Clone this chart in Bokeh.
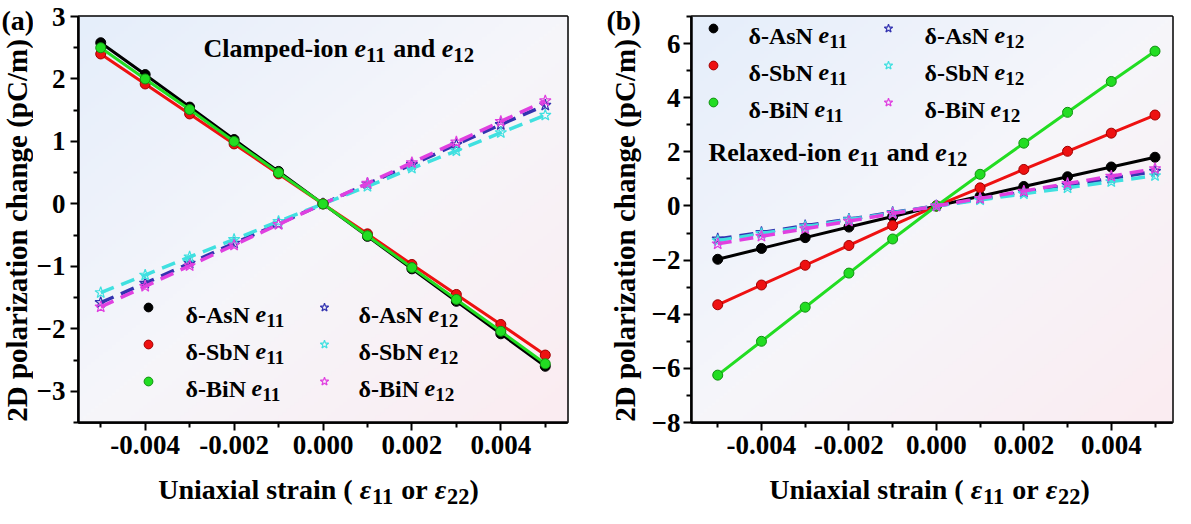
import math
import numpy as np
from bokeh.plotting import figure
from bokeh.models import Range1d, FixedTicker, NumeralTickFormatter, Label, Legend, LegendItem
from bokeh.layouts import row, column
from bokeh.embed import file_html
from bokeh.resources import INLINE

# ---------------- data ----------------
strain = [-0.005, -0.004, -0.003, -0.002, -0.001, 0.0, 0.001, 0.002, 0.003, 0.004, 0.005]

# (a) clamped-ion
a_asn_e11 = [2.58, 2.07, 1.55, 1.03, 0.52, 0.0, -0.52, -1.04, -1.56, -2.08, -2.60]
a_sbn_e11 = [2.40, 1.92, 1.44, 0.96, 0.48, 0.0, -0.48, -0.97, -1.45, -1.93, -2.42]
a_bin_e11 = [2.50, 2.00, 1.51, 1.00, 0.50, 0.0, -0.51, -1.02, -1.53, -2.04, -2.56]
a_asn_e12 = [-1.58, -1.27, -0.95, -0.63, -0.32, 0.0, 0.32, 0.63, 0.95, 1.27, 1.58]
a_sbn_e12 = [-1.42, -1.14, -0.85, -0.57, -0.28, 0.0, 0.28, 0.57, 0.85, 1.14, 1.42]
a_bin_e12 = [-1.65, -1.32, -0.99, -0.66, -0.33, 0.0, 0.33, 0.66, 0.99, 1.32, 1.65]

# (b) relaxed-ion
b_asn_e11 = [-1.97, -1.57, -1.17, -0.78, -0.39, 0.0, 0.36, 0.72, 1.08, 1.44, 1.80]
b_sbn_e11 = [-3.65, -2.92, -2.19, -1.46, -0.72, 0.0, 0.67, 1.35, 2.02, 2.69, 3.36]
b_bin_e11 = [-6.25, -5.00, -3.74, -2.48, -1.22, 0.0, 1.17, 2.32, 3.46, 4.60, 5.72]
b_asn_e12 = [-1.22, -0.98, -0.73, -0.49, -0.24, 0.0, 0.26, 0.51, 0.77, 1.02, 1.28]
b_sbn_e12 = [-1.28, -1.02, -0.77, -0.51, -0.26, 0.0, 0.22, 0.45, 0.67, 0.90, 1.12]
b_bin_e12 = [-1.40, -1.12, -0.84, -0.56, -0.28, 0.0, 0.28, 0.55, 0.83, 1.10, 1.38]

x_ticks = [-0.004, -0.002, 0.0, 0.002, 0.004]
x_minor = [-0.005, -0.003, -0.001, 0.001, 0.003, 0.005]
a_yticks = [-3, -2, -1, 0, 1, 2, 3]
a_yminor = [-3.5, -2.5, -1.5, -0.5, 0.5, 1.5, 2.5]
b_yticks = [-8, -6, -4, -2, 0, 2, 4, 6]
b_yminor = [-7, -5, -3, -1, 1, 3, 5, 7]

materials = ["δ-AsN", "δ-SbN", "δ-BiN"]
e11_colors = ["#000000", "#ee1111", "#22dd22"]
e11_edges = ["#000000", "#a00000", "#109010"]
e12_colors = ["#3333b0", "#40e0e0", "#e040e0"]

y_title = "2D polarization change (pC/m)"
x_title = [("Uniaxial strain ( ", "b"), ("ε", "bi"), ("11", "sub"), (" or ", "b"), ("ε", "bi"),
           ("22", "sub"), (")", "b")]

FONT = "Liberation Serif"
HM = 468          # main figure height
HB = 40           # bottom title strip height
TOP = 16          # frame top offset inside main canvas
FB = 430          # frame bottom, page px
PAGE_TOP = 8

# Times-like bold advance widths (per 1000 em) for text layout
WID = {' ': 250, '(': 333, ')': 333, '-': 333, '.': 250, '/': 278, 'A': 722, 'B': 667, 'C': 722,
       'D': 722, 'N': 722, 'R': 722, 'S': 556, 'U': 722, 'a': 500, 'b': 556, 'c': 444, 'd': 556,
       'e': 444, 'g': 500, 'h': 556, 'i': 278, 'l': 278, 'm': 833, 'n': 556, 'o': 500, 'p': 556,
       'r': 444, 's': 389, 't': 333, 'x': 500, 'z': 444, 'δ': 500, 'ε': 440}
for d in "0123456789":
    WID[d] = 500


def tw(s, size):
    return sum(WID.get(c, 500) for c in s) * size / 1000.0


def rich(p, FL, FBOT, x, base, parts, size, center=False):
    """Mixed-style text: page coords (x, baseline) mapped to frame-relative screen units."""
    pieces = []
    for txt, kind in parts:
        if kind == "sub":
            pieces.append((txt, size * 0.8, size * 0.24, "bold"))
        elif kind == "bi":
            pieces.append((txt, size, 0.0, "bold italic"))
        else:
            pieces.append((txt, size, 0.0, "bold"))
    total = sum(tw(t, s) for t, s, _, _ in pieces)
    if center:
        x = x - total / 2.0
    for t, s, dy, st in pieces:
        lead = len(t) - len(t.lstrip(" "))
        x += tw(" " * lead, s)
        core = t.strip(" ")
        if core:
            p.add_layout(Label(x=x - FL, y=FBOT - (base + dy), x_units="screen", y_units="screen",
                               text=core, text_font=FONT, text_font_size=f"{s:.1f}px",
                               text_font_style=st, text_color="black",
                               text_baseline="alphabetic", text_align="left"))
        x += tw(t.lstrip(" "), s)


def legend_col(p, FL, cx, cys, renderers):
    g = 22
    items = [LegendItem(label=" ", renderers=[r]) for r in renderers]
    leg = Legend(items=items, location=(cx - g / 2 - FL, FB - (cys[-1] + g / 2)),
                 orientation="vertical", glyph_width=g, glyph_height=g, label_height=g,
                 label_width=0, label_standoff=0, spacing=int(round(cys[1] - cys[0] - g)),
                 padding=0, margin=0, border_line_alpha=0, background_fill_alpha=0,
                 label_text_font_size="1px")
    p.add_layout(leg)


def gradient(nx=120, ny=120):
    yy, xx = np.mgrid[0:1:ny * 1j, 0:1:nx * 1j]
    t = (xx + (1 - yy)) / 2.0
    c_tl = np.array([229, 238, 250], dtype=float)
    c_md = np.array([246, 246, 250], dtype=float)
    c_br = np.array([251, 236, 241], dtype=float)
    s = (t / 0.5)[..., None]
    s2 = ((t - 0.5) / 0.5)[..., None]
    out = np.where((t < 0.5)[..., None], c_tl + (c_md - c_tl) * s, c_md + (c_br - c_md) * s2)
    img = np.empty((ny, nx), dtype=np.uint32)
    v = img.view(dtype=np.uint8).reshape((ny, nx, 4))
    v[..., 0] = out[..., 0].astype(np.uint8)
    v[..., 1] = out[..., 1].astype(np.uint8)
    v[..., 2] = out[..., 2].astype(np.uint8)
    v[..., 3] = 255
    return img


def strip(width, height):
    s = figure(width=width, height=height, x_range=Range1d(0, 1), y_range=Range1d(0, 1),
               output_backend="svg", toolbar_location=None, x_axis_location=None,
               y_axis_location=None, min_border=0)
    s.frame_align = False
    for g in s.grid:
        g.visible = False
    s.outline_line_color = None
    s.background_fill_color = "white"
    s.border_fill_color = "white"
    return s


def make_fig(width, bl, br, xr, yr, yticks, yminor, ystandoff):
    p = figure(width=width, height=HM, x_range=Range1d(*xr), y_range=Range1d(*yr),
               output_backend="svg", toolbar_location=None,
               min_border_left=bl, min_border_right=br, min_border_top=TOP,
               min_border_bottom=PAGE_TOP + HM - FB)
    p.image_rgba(image=[gradient()], x=xr[0], y=yr[0], dw=xr[1] - xr[0], dh=yr[1] - yr[0], level="image")
    p.grid.visible = False
    p.outline_line_color = "black"
    p.outline_line_width = 2.5
    p.outline_line_alpha = 1.0
    p.background_fill_color = "white"
    p.border_fill_color = "white"
    p.xaxis.ticker = FixedTicker(ticks=x_ticks, minor_ticks=x_minor)
    p.xaxis.formatter = NumeralTickFormatter(format="0.000")
    p.yaxis.ticker = FixedTicker(ticks=yticks, minor_ticks=yminor)
    for ax in (p.xaxis[0], p.yaxis[0]):
        ax.axis_line_width = 2.5
        ax.major_tick_line_width = 2
        ax.minor_tick_line_width = 2
        ax.major_tick_out = 8
        ax.major_tick_in = 0
        ax.minor_tick_out = 5
        ax.minor_tick_in = 0
        ax.major_label_text_font = FONT
        ax.major_label_text_font_size = "27px"
        ax.major_label_text_font_style = "bold"
        ax.major_label_text_color = "black"
    p.xaxis.major_label_standoff = 5
    p.yaxis.major_label_standoff = ystandoff
    return p


def draw(p, e11, e12, e12_first):
    circ, stars = [], []

    def d11():
        for ys, c, ec in zip(e11, e11_colors, e11_edges):
            p.line(strain, ys, line_color=c, line_width=3)
            circ.append(p.scatter(strain, ys, marker="circle", size=10, fill_color=c,
                                  line_color=ec, line_width=1))

    def d12():
        for ys, c in zip(e12, e12_colors):
            p.line(strain, ys, line_color=c, line_width=3.5, line_dash="14 8")
            stars.append(p.scatter(strain, ys, marker="star", size=12, fill_alpha=0,
                                   line_color=c, line_width=1.2))
    if e12_first:
        d12(); d11()
    else:
        d11(); d12()
    return circ, stars


def y_title_label(s, x, ycenter):
    s.add_layout(Label(x=x, y=ycenter, x_units="screen", y_units="screen", text=y_title,
                       angle=math.pi / 2, angle_units="rad", text_align="center",
                       text_baseline="middle", text_font=FONT, text_font_size="29px",
                       text_font_style="bold", text_color="black"))


# ---------------- widths (page x) ----------------
WYA, WPA, WYB, WPB = 33, 559, 56, 527   # sums to 1175
XA0 = 8
PA0 = XA0 + WYA          # 41
YB0 = PA0 + WPA          # 600
PB0 = YB0 + WYB          # 656
FLa = PA0 + 37           # 78
FLb = PB0 + 34           # 690
STRIP_BOTTOM = PAGE_TOP + HM   # page y of bottom of main row (476)

# ---------------- panel (a) ----------------
pa = make_fig(WPA, FLa - PA0, PA0 + WPA - 575, (-0.0055, 0.0055), (-3.5, 3.0), a_yticks, a_yminor, 5)
ca, sa = draw(pa, [a_asn_e11, a_sbn_e11, a_bin_e11], [a_asn_e12, a_sbn_e12, a_bin_e12], True)

rows_a = [315, 352, 389]
legend_col(pa, FLa, 148, rows_a, ca)
legend_col(pa, FLa, 324, rows_a, sa)
for m, cy in zip(materials, rows_a):
    rich(pa, FLa, FB, 185, cy + 7, [(m + " ", "b"), ("e", "bi"), ("11", "sub")], 24)
    rich(pa, FLa, FB, 358, cy + 7, [(m + " ", "b"), ("e", "bi"), ("12", "sub")], 24)
rich(pa, FLa, FB, 203, 56, [("Clamped-ion ", "b"), ("e", "bi"), ("11", "sub"), (" and ", "b"),
                            ("e", "bi"), ("12", "sub")], 26)

ya = strip(WYA, HM)
y_title_label(ya, 24 - XA0, STRIP_BOTTOM - 238)
rich(ya, XA0, STRIP_BOTTOM, 9, 28, [("(a)", "b")], 28)

xa = strip(WYA + WPA, HB)
rich(xa, XA0, STRIP_BOTTOM + HB, 326, 497, x_title, 28, center=True)

# ---------------- panel (b) ----------------
pb = make_fig(WPB, FLb - PB0, PB0 + WPB - 1180, (-0.0056, 0.0054), (-8.0, 7.0), b_yticks, b_yminor, 3)
cb, sb = draw(pb, [b_asn_e11, b_sbn_e11, b_bin_e11], [b_asn_e12, b_sbn_e12, b_bin_e12], False)

rows_b = [36, 73, 110]
legend_col(pb, FLb, 712, rows_b, cb)
legend_col(pb, FLb, 887, rows_b, sb)
for m, cy in zip(materials, rows_b):
    rich(pb, FLb, FB, 747, cy + 7, [(m + " ", "b"), ("e", "bi"), ("11", "sub")], 24)
    rich(pb, FLb, FB, 923, cy + 7, [(m + " ", "b"), ("e", "bi"), ("12", "sub")], 24)
rich(pb, FLb, FB, 707, 160, [("Relaxed-ion ", "b"), ("e", "bi"), ("11", "sub"), (" and ", "b"),
                             ("e", "bi"), ("12", "sub")], 26)

yb = strip(WYB, HM)
y_title_label(yb, 632 - YB0, STRIP_BOTTOM - 238)
rich(yb, YB0, STRIP_BOTTOM, 614, 28, [("(b)", "b")], 28)

xb = strip(WYB + WPB, HB)
rich(xb, YB0, STRIP_BOTTOM + HB, 937, 497, x_title, 28, center=True)

layout = column(row(ya, pa, yb, pb), row(xa, xb))
open("out.html", "w").write(file_html(layout, INLINE, "Polarization change"))
